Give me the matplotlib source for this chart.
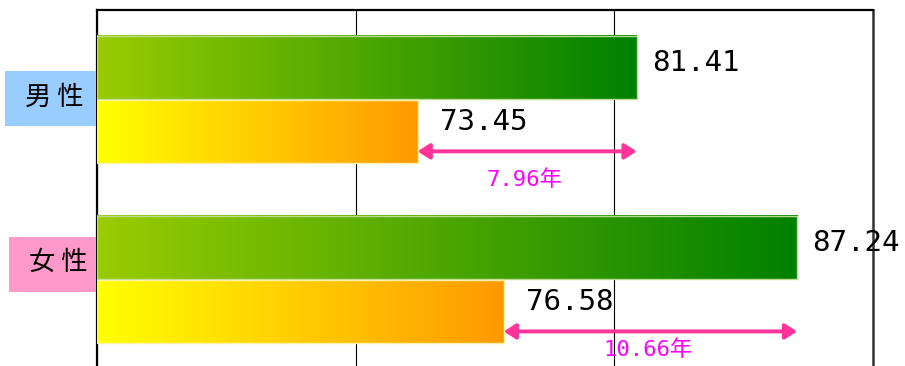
import numpy as np
import matplotlib
matplotlib.use("Agg")
import matplotlib.pyplot as plt
from matplotlib.colors import LinearSegmentedColormap
from matplotlib.patches import Rectangle

# data
groups = ["男性", "女性"]
life_exp = [81.41, 87.24]       # green bars
healthy_life = [73.45, 76.58]   # yellow bars
diff_labels = ["7.96年", "10.66年"]

group_colors = ["#99ccff", "#ff99cc"]

W, H = 905, 366
fig = plt.figure(figsize=(W / 100, H / 100), dpi=100)
ax = fig.add_axes([97 / W, 0, 776 / W, 356 / H])

xmin, xmax = 61.8, 90.0
ypos = np.arange(len(groups))
off = 0.178
bh = 0.35

green_cm = LinearSegmentedColormap.from_list("g", ["#99cc00", "#008000"])
yellow_cm = LinearSegmentedColormap.from_list("y", ["#ffff00", "#ff9900"])
grad = np.linspace(0, 1, 256).reshape(1, -1)

gbars = ax.barh(ypos - off, np.array(life_exp) - xmin, left=xmin, height=bh,
                facecolor="none", edgecolor="#b8dc90", lw=1, zorder=4)
ybars = ax.barh(ypos + off, np.array(healthy_life) - xmin, left=xmin, height=bh,
                facecolor="none", edgecolor="#fff2a8", lw=1, zorder=4)

for bars, cm in [(gbars, green_cm), (ybars, yellow_cm)]:
    for b in bars:
        x0, y0 = b.get_x(), b.get_y()
        ax.imshow(grad, extent=(x0, x0 + b.get_width(), y0 + b.get_height(), y0),
                  cmap=cm, aspect="auto", interpolation="bilinear", zorder=3)

# value labels
num_font = "DejaVu Sans Mono"
for i in range(len(groups)):
    ax.annotate(f"{life_exp[i]:.2f}", (life_exp[i], ypos[i] - off),
                xytext=(11, 3), textcoords="offset points",
                ha="left", va="center", fontsize=21, family=num_font)
    ax.annotate(f"{healthy_life[i]:.2f}", (healthy_life[i], ypos[i] + off),
                xytext=(16, 7), textcoords="offset points",
                ha="left", va="center", fontsize=21, family=num_font)

# difference arrows
diff_dy = [20, 13]
for i in range(len(groups)):
    ya = ypos[i] + off + 0.11
    ax.annotate("", xy=(life_exp[i], ya), xytext=(healthy_life[i], ya),
                arrowprops=dict(arrowstyle="<|-|>,head_length=0.7,head_width=0.45",
                                color="#ff3399", lw=2.8, shrinkA=0, shrinkB=0),
                zorder=5)
    xm = (life_exp[i] + healthy_life[i]) / 2
    ax.annotate(diff_labels[i], (xm, ya), xytext=(-2, -diff_dy[i]),
                textcoords="offset points", ha="center", va="center",
                fontsize=16, color="#ff00ff",
                family=["DejaVu Sans Mono", "Noto Sans CJK JP"])

ax.set_xlim(xmin, xmax)
ax.set_ylim(1.48, -0.497)
ax.set_xticks(np.linspace(xmin, xmax, 4))
ax.set_yticks([])
ax.tick_params(length=0, labelbottom=False)
ax.grid(axis="x", color="black", lw=0.8, zorder=1)
ax.set_axisbelow(True)
ax.spines["bottom"].set_visible(False)
for s in ["top", "left"]:
    ax.spines[s].set_linewidth(1.6)
    ax.spines[s].set_color("black")
ax.spines["right"].set_linewidth(1.8)
ax.spines["right"].set_color("#333333")
for s in ax.spines.values():
    s.set_zorder(1.5)

# group label boxes (pixel layout)
boxes = [(5, 71, 91, 55), (9, 237, 87, 55)]
text_pos = [(54, 97), (58, 262)]
for i, g in enumerate(groups):
    bx, by, bw, bhh = boxes[i]
    fig.add_artist(Rectangle((bx / W, 1 - (by + bhh) / H), bw / W, bhh / H,
                             transform=fig.transFigure, facecolor=group_colors[i],
                             edgecolor="none"))
    tx, ty = text_pos[i]
    fig.text(tx / W, 1 - ty / H, " ".join(g), ha="center", va="center", fontsize=19,
             family=["Noto Sans CJK JP", "DejaVu Sans"])

fig.savefig("out.png", dpi=100)
